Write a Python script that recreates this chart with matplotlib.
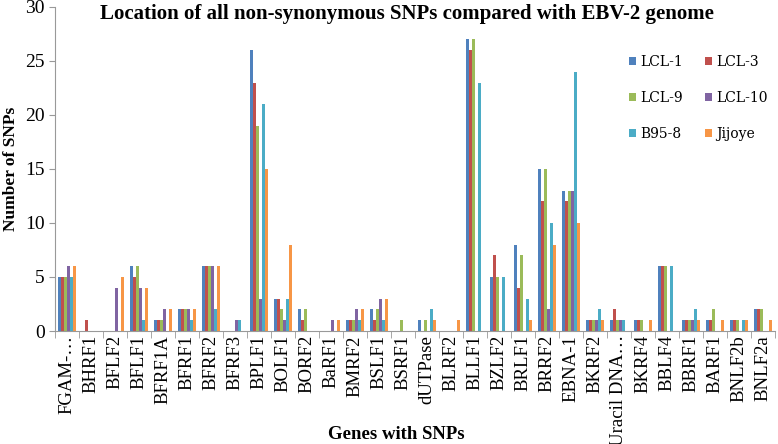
import numpy as np
import matplotlib
matplotlib.use("Agg")
import matplotlib.pyplot as plt

plt.rcParams['font.family'] = ['Liberation Serif', 'DejaVu Serif']

genes = ["FGAM-…", "BHRF1", "BFLF2", "BFLF1", "BFRF1A", "BFRF1", "BFRF2", "BFRF3",
         "BPLF1", "BOLF1", "BORF2", "BaRF1", "BMRF2", "BSLF1", "BSRF1", "dUTPase",
         "BLRF2", "BLLF1", "BZLF2", "BRLF1", "BRRF2", "EBNA-1", "BKRF2", "Uracil DNA…",
         "BKRF4", "BBLF4", "BBRF1", "BARF1", "BNLF2b", "BNLF2a"]

lcl1 = [5, 0, 0, 6, 1, 2, 6, 0, 26, 3, 2, 0, 1, 2, 0, 1, 0, 27, 5, 8, 15, 13, 1, 1, 1, 6, 1, 1, 1, 2]
lcl3 = [5, 1, 0, 5, 1, 2, 6, 0, 23, 3, 1, 0, 1, 1, 0, 0, 0, 26, 7, 4, 12, 12, 1, 2, 1, 6, 1, 1, 1, 2]
lcl9 = [5, 0, 0, 6, 1, 2, 6, 0, 19, 2, 2, 0, 1, 2, 1, 1, 0, 27, 5, 7, 15, 13, 1, 1, 1, 6, 1, 2, 1, 2]
lcl10 = [6, 0, 4, 4, 2, 2, 6, 1, 3, 1, 0, 1, 2, 3, 0, 0, 0, 0, 0, 0, 2, 13, 1, 1, 0, 0, 1, 0, 0, 0]
b958 = [5, 0, 0, 1, 0, 1, 2, 1, 21, 3, 0, 0, 1, 1, 0, 2, 0, 23, 5, 3, 10, 24, 2, 1, 0, 6, 2, 0, 1, 0]
jijoye = [6, 0, 5, 4, 2, 2, 6, 0, 15, 8, 0, 1, 2, 3, 0, 1, 1, 0, 0, 1, 8, 10, 1, 0, 1, 0, 1, 1, 1, 1]

series = [("LCL-1", lcl1), ("LCL-3", lcl3), ("LCL-9", lcl9),
          ("LCL-10", lcl10), ("B95-8", b958), ("Jijoye", jijoye)]
colors = ["#4F81BD", "#C0504D", "#9BBB59", "#8064A2", "#4BACC6", "#F79646"]

fig = plt.figure(figsize=(7.78, 4.44), dpi=100)
ax = fig.add_axes([0.0707, 0.2545, 0.925, 0.73])

x = np.arange(len(genes))
w = 0.125
bars = []
for i, ((name, vals), c) in enumerate(zip(series, colors)):
    bars.append(ax.bar(x + (i - 2.5) * w, vals, width=w, color=c, label=name))

ax.set_xlim(-0.5, len(genes) - 0.5)
ax.set_ylim(0, 30)
ax.set_yticks(range(0, 31, 5))
ax.set_xticks(x)
ax.set_xticklabels(genes, rotation=90, fontsize=13.5)
ax.set_xticks(np.arange(-0.5, len(genes)), minor=True)
ax.tick_params(axis='x', which='major', length=0, pad=3)
ax.tick_params(axis='x', which='minor', length=5, color='#999999')
ax.tick_params(axis='y', labelsize=14, length=4, color='#999999')

for s in ['top', 'right']:
    ax.spines[s].set_visible(False)
for s in ['left', 'bottom']:
    ax.spines[s].set_color('#999999')

ax.set_ylabel("Number of SNPs", fontsize=12.5, fontweight='bold', labelpad=4)
fig.text(0.509, 0.003, "Genes with SNPs", ha='center', va='bottom',
         fontsize=13.5, fontweight='bold')
fig.text(0.523, 0.99, "Location of all non-synonymous SNPs compared with EBV-2 genome",
         ha='center', va='top', fontsize=15, fontweight='bold')

# legend filled row by row like the original
order = [0, 2, 4, 1, 3, 5]
fig.legend([bars[k] for k in order], [series[k][0] for k in order],
           loc='upper left', bbox_to_anchor=(0.8, 0.892), ncol=2, frameon=False,
           prop={'family': 'DejaVu Serif', 'size': 10}, borderpad=0,
           handlelength=0.5, handleheight=0.5, handletextpad=0.3,
           labelspacing=1.6, columnspacing=1.6)

fig.savefig("out.png", dpi=100)
